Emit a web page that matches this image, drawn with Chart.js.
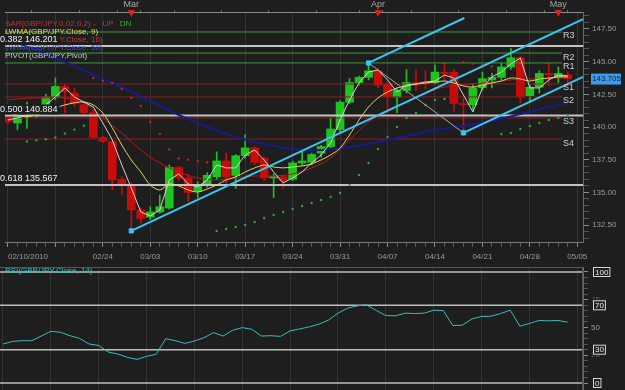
<!DOCTYPE html>
<html>
<head>
<meta charset="utf-8">
<title>GBP/JPY daily</title>
<script src="https://cdn.jsdelivr.net/npm/chart.js@4.4.0/dist/chart.umd.min.js"></script>
<style>
    html, body { margin: 0; padding: 0; background: #1e1e1e; }
    #wrap { position: relative; width: 625px; height: 390px; overflow: hidden; background: #1e1e1e; }
    #priceChart { position: absolute; left: 0; top: 0; }
    #rsiChart { position: absolute; left: 0; top: 265px; }
</style>
</head>
<body>
<div id="wrap">
    <canvas id="priceChart" width="625" height="265"></canvas>
    <canvas id="rsiChart" width="625" height="125"></canvas>
</div>
<script>
// GBP/JPY daily chart with indicators and RSI panel

// Daily candles, index 0 = 02/10/2010, one per trading day
const opens = [140.9, 140.3, 140.8, 140.9, 141.3, 142.3, 143.1, 142.6, 141.7, 141.1,
    139.2, 138.9, 136.0, 135.6, 133.65, 133.1, 133.5, 133.8, 136.9, 136.1,
    135.1, 135.6, 136.2, 137.4, 136.3, 137.8, 138.4, 137.6, 136.1, 136.2,
    136.0, 137.25, 137.3, 138.0, 138.5, 139.8, 141.9, 143.4, 143.8, 144.3,
    143.3, 142.3, 142.8, 143.4, 143.45, 143.4, 144.2, 144.2, 141.8, 141.7,
    143.0, 143.6, 143.8, 144.6, 145.3, 142.4, 143.05, 144.1, 143.8, 144.0];
const highs = [141.1, 141.1, 141.9, 141.1, 142.5, 143.75, 143.3, 143.0, 142.0, 141.3,
    139.3, 139.0, 136.2, 135.7, 133.8, 133.9, 134.8, 137.1, 137.0, 136.4,
    135.8, 136.5, 138.1, 138.0, 137.9, 139.4, 138.5, 137.7, 136.4, 136.3,
    137.4, 138.2, 138.0, 138.6, 140.7, 142.0, 143.7, 143.9, 144.9, 144.5,
    143.5, 143.0, 144.4, 144.4, 144.35, 144.75, 144.9, 144.4, 142.2, 143.3,
    144.2, 144.1, 144.9, 146.0, 145.4, 143.2, 144.3, 144.9, 144.6, 144.2];
const lows = [140.2, 139.8, 139.9, 140.7, 141.0, 142.1, 141.1, 141.6, 141.0, 139.1,
    138.8, 135.2, 134.8, 132.05, 132.65, 132.9, 133.4, 133.7, 135.9, 134.3,
    134.6, 135.4, 136.0, 135.7, 135.3, 137.6, 137.1, 135.9, 134.6, 135.3,
    135.9, 137.1, 137.1, 137.7, 138.4, 139.6, 141.8, 143.2, 143.6, 143.0,
    141.1, 141.1, 142.6, 142.8, 142.9, 143.3, 143.5, 141.2, 139.55, 141.3,
    142.8, 143.0, 143.6, 144.4, 141.8, 141.9, 142.6, 143.2, 143.4, 143.3];
const closes = [140.4, 140.9, 140.85, 140.95, 142.3, 143.1, 142.7, 141.8, 141.1, 139.2,
    138.9, 135.95, 135.6, 133.65, 133.0, 133.5, 133.9, 136.9, 136.1, 135.0,
    135.6, 136.3, 137.4, 136.2, 137.8, 138.4, 137.3, 136.1, 136.2, 135.9,
    137.25, 137.4, 137.9, 138.5, 139.85, 141.9, 143.4, 143.8, 144.3, 143.2,
    142.3, 142.8, 143.4, 143.2, 143.3, 144.2, 144.1, 141.8, 141.7, 143.0,
    143.7, 143.8, 144.6, 145.3, 142.3, 143.05, 144.1, 144.0, 144.1, 143.705];

// Fast white line (follows the closes)
const fastLine = [140.54, 140.69, 140.92, 141.07, 141.69, 142.3, 142.99, 142.3, 141.91, 141.53,
    140.31, 139.01, 137.09, 135.33, 133.5, 133.19, 133.65, 135.95, 136.41, 135.64,
    135.41, 135.95, 137.09, 136.87, 136.87, 137.86, 138.24, 137.48, 136.56, 135.72,
    136.1, 136.56, 137.25, 137.86, 138.78, 140.54, 142.07, 143.37, 144.21, 144.36,
    143.6, 142.68, 143.22, 143.29, 143.44, 143.52, 143.98, 143.75, 142.45, 141.15,
    142.99, 143.83, 144.21, 144.82, 145.28, 142.99, 142.99, 143.6, 143.98, 143.9];

// LWMA 9 (yellow)
const lwma9 = [141.07, 140.9, 140.77, 140.95, 141.15, 141.45, 141.69, 141.85, 141.91, 141.69,
    141.07, 139.93, 138.62, 137.48, 136.56, 135.56, 135.18, 135.64, 135.49, 135.18,
    135.03, 135.26, 135.56, 135.95, 136.18, 136.56, 136.87, 137.09, 136.94, 136.87,
    136.94, 137.02, 137.17, 137.48, 137.86, 138.39, 139.39, 140.54, 141.53, 142.22,
    142.68, 142.99, 143.14, 143.29, 143.37, 143.44, 143.52, 143.37, 143.14, 143.06,
    143.22, 143.37, 143.52, 143.75, 143.67, 143.52, 143.67, 143.75, 143.83, 143.83];

// LWMA 16 (red), read every second day: [day, value]
const lwma16 = [[0, 142.07], [2, 142.2], [4, 142.22], [6, 142.22], [8, 141.84], [10, 140.69],
    [12, 139.54], [14, 138.24], [16, 137.25], [18, 136.56], [20, 136.1], [22, 135.95],
    [24, 136.1], [26, 136.25], [28, 136.25], [30, 136.41], [32, 136.87], [34, 137.63],
    [36, 139.01], [38, 140.38], [40, 141.3], [42, 141.91], [44, 142.6], [46, 143.06],
    [48, 143.22], [50, 143.37], [52, 143.52], [54, 143.67], [56, 143.67], [58, 143.75], [59, 143.75]];

// LWMA 50 (blue), read every third day: [day, value]
const lwma50 = [[0, 146.66], [3, 145.89], [6, 144.98], [9, 143.98], [12, 143.06], [15, 141.99],
    [18, 140.92], [21, 140.0], [24, 139.24], [27, 138.7], [30, 138.32], [33, 138.24],
    [36, 138.47], [39, 138.85], [42, 139.31], [45, 139.77], [48, 140.08], [51, 140.46],
    [54, 140.99], [57, 141.53], [59, 141.84]];

// Parabolic SAR dots: [day, value]
const sarBelow = [[2, 138.9], [3, 138.98], [4, 139.06], [5, 139.2], [6, 139.5], [7, 139.8], [8, 140.1],
    [22, 132.05], [23, 132.2], [24, 132.35], [25, 132.5], [26, 132.73], [27, 133.04], [28, 133.27],
    [29, 133.5], [30, 133.73], [31, 133.96], [32, 134.19], [33, 134.42], [34, 134.65], [35, 134.95],
    [36, 135.56], [37, 136.33], [38, 137.25], [39, 138.32], [40, 139.24], [41, 140.0], [42, 140.69],
    [43, 141.07], [44, 141.69], [45, 142.07], [46, 142.14],
    [52, 139.46], [53, 139.54], [54, 139.85], [55, 140.08], [56, 140.31], [57, 140.54], [58, 140.69], [59, 140.84]];
const sarAbove = [[9, 143.75], [10, 143.52], [11, 143.37], [12, 142.91], [13, 142.22], [14, 141.61],
    [15, 140.38], [16, 139.47], [17, 138.3], [18, 137.6], [19, 137.5], [20, 137.4], [21, 137.3],
    [48, 144.95], [49, 144.85], [50, 144.75], [51, 144.65]];

// Pivot levels and Fibonacci retracements
const pivotNames = ['R3', 'R2', 'R1', 'S1', 'S2', 'S3', 'S4'];
const pivotLevels = [147.27, 145.66, 144.9, 143.29, 142.3, 140.69, 139.08];
const fibNames = ['0.382', '0.500', '0.618'];
const fibLevels = [146.201, 140.884, 135.567];

// Hand-drawn channel: [day, price] end points
const channelLow = [[13, 132.05], [60.6, 148.26]];
const channelHigh = [[38, 144.9], [48.1, 148.34]];
const channelMid = [[48, 139.55], [60.6, 143.84]];
const channelHandle = [[38, 144.9], [48, 139.55]];
const channelAnchors = [[13, 132.05], [38, 144.9], [48, 139.55]];

// RSI(14)
const rsi = [35.1, 37.5, 38.1, 38.1, 42.3, 46.6, 45.7, 42.6, 40.2, 35.1,
    33.9, 27.9, 26.1, 23.1, 21.3, 24.0, 25.8, 39.9, 38.1, 35.7,
    37.8, 40.8, 45.4, 42.3, 47.5, 49.9, 48.4, 42.3, 42.6, 42.0,
    46.9, 48.7, 50.6, 53.0, 56.6, 62.9, 67.4, 69.5, 70.4, 65.3,
    60.8, 60.5, 62.9, 62.6, 62.9, 65.6, 65.3, 51.8, 52.1, 57.8,
    59.9, 60.2, 62.6, 65.6, 51.2, 53.6, 56.3, 56.0, 56.3, 54.8];
const rsiLevels = [0, 30, 70, 100];

// Axis labels
const weekDays = [0, 5, 10, 15, 20, 25, 30, 35, 40, 45, 50, 55, 60];
const weekLabels = ['02/10/2010', '', '02/24', '03/03', '03/10', '03/17', '03/24', '03/31', '04/07', '04/14', '04/21', '04/28', '05/05'];
const monthDays = [13, 39, 58];
const monthLabels = ['Mar', 'Apr', 'May'];

const xMin = -0.31;
const xMax = 60.6;
const FONT = '"Liberation Sans", Arial, sans-serif';

Chart.defaults.font.family = FONT;
Chart.defaults.color = '#9a9a9a';

// helpers
function pairs(list) {
    return list.map(p => ({ x: p[0], y: p[1] }));
}

function series(values) {
    return values.map((v, i) => ({ x: i, y: v }));
}

function flatLine(level, toX) {
    return [{ x: xMin, y: level }, { x: toX, y: level }];
}

function lineSet(data, color, width, extra) {
    return Object.assign({
        type: 'line', data: data, borderColor: color, borderWidth: width,
        pointRadius: 0, fill: false, tension: 0
    }, extra || {});
}

function isWeek(v) {
    return weekDays.indexOf(v) >= 0;
}

function isMajorPrice(v) {
    return Math.abs(v / 2.5 - Math.round(v / 2.5)) < 1e-6;
}

function noPadding(scale) {
    scale.paddingLeft = 0;
    scale.paddingRight = 0;
    scale.paddingTop = 0;
    scale.paddingBottom = 0;
}

const candleColors = closes.map((c, i) => c >= opens[i] ? '#1ec41e' : '#c80c0c');

// ---------- price panel ----------
const priceSets = [];

priceSets.push({
    type: 'bar', data: lows.map((l, i) => ({ x: i, y: [l, highs[i]] })),
    backgroundColor: candleColors, grouped: false, barPercentage: 1, categoryPercentage: 1,
    maxBarThickness: 1, order: 30
});
priceSets.push({
    type: 'bar', data: opens.map((o, i) => ({ x: i, y: [o, closes[i]] })),
    backgroundColor: candleColors, grouped: false, barPercentage: 1, categoryPercentage: 1,
    maxBarThickness: 8, minBarLength: 1, order: 29
});

pivotLevels.forEach((lvl, i) => {
    const color = pivotNames[i].charAt(0) === 'R' ? '#3c9c3c' : '#8c1e1e';
    priceSets.push(lineSet(flatLine(lvl, 58.4), color, 1, { order: 25 }));
});
fibLevels.forEach(lvl => {
    priceSets.push(lineSet(flatLine(lvl, xMax), '#c4c4c4', 2, { order: 24 }));
});

priceSets.push(lineSet(pairs(lwma50), '#1a1a88', 2, { tension: 0.4, order: 12 }));
priceSets.push(lineSet(pairs(lwma16), '#b41c1c', 1, { tension: 0.4, order: 11 }));
priceSets.push(lineSet(series(lwma9), '#e2d46a', 1, { tension: 0.3, order: 10 }));
priceSets.push(lineSet(series(fastLine), '#d2d2d2', 1, { order: 9 }));

priceSets.push({
    type: 'line', data: pairs(sarBelow), showLine: false, pointRadius: 1.2,
    pointBackgroundColor: '#2aa82a', pointBorderWidth: 0, order: 8
});
priceSets.push({
    type: 'line', data: pairs(sarAbove), showLine: false, pointRadius: 1.2,
    pointBackgroundColor: '#b02a2a', pointBorderWidth: 0, order: 8
});

priceSets.push(lineSet(pairs(channelHandle), '#a8a8a8', 1, { order: 3 }));
priceSets.push(lineSet(pairs(channelLow), '#3cc4f2', 2, { order: 2 }));
priceSets.push(lineSet(pairs(channelHigh), '#3cc4f2', 2, { order: 2 }));
priceSets.push(lineSet(pairs(channelMid), '#3cc4f2', 2, { order: 2 }));
priceSets.push({
    type: 'line', data: pairs(channelAnchors), showLine: false, pointStyle: 'rect',
    pointRadius: 3, pointBackgroundColor: '#3cc4f2', pointBorderColor: '#3cc4f2', order: 1
});

// Texts drawn over the price panel: indicator names, level labels, markers
const priceOverlay = {
    id: 'priceOverlay',
    afterDraw(chart) {
        const ctx = chart.ctx;
        const y = chart.scales.y;
        const top = chart.scales.xTop;
        ctx.save();
        ctx.font = '8px ' + FONT;
        ctx.textBaseline = 'middle';
        ctx.textAlign = 'left';

        // indicator legend
        const sarText = 'SAR(GBP/JPY,0.02,0.2) -';
        ctx.fillStyle = '#d42a2a';
        ctx.fillText(sarText, 5, 24);
        const upX = 5 + ctx.measureText(sarText).width + 7;
        ctx.fillText('UP', upX, 24);
        ctx.fillStyle = '#22b822';
        ctx.fillText('DN', upX + ctx.measureText('UP').width + 6, 24);
        ctx.fillStyle = '#e6dc50';
        ctx.fillText('LWMA(GBP/JPY.Close, 9)', 5, 32);
        ctx.fillStyle = '#d43030';
        ctx.fillText('LWMA(GBP/JPY.Close, 16)', 5, 40);
        ctx.fillStyle = '#3c48d8';
        ctx.fillText('LWMA(GBP/JPY.Close, 50)', 5, 48);
        ctx.fillStyle = '#c8c8c8';
        ctx.fillText('PIVOT(GBP/JPY,Pivot)', 5, 56);

        // fibonacci labels
        ctx.font = '9px ' + FONT;
        fibLevels.forEach((lvl, i) => {
            const text = fibNames[i] + ' ' + lvl.toFixed(3);
            const py = y.getPixelForValue(lvl) - 6;
            const w = ctx.measureText(text).width;
            ctx.fillStyle = '#1e1e1e';
            ctx.fillRect(0, py - 5, w + 2, 10);
            ctx.fillStyle = '#f0f0f0';
            ctx.fillText(text, 0, py);
        });

        // pivot labels
        ctx.fillStyle = '#cfcfcf';
        pivotLevels.forEach((lvl, i) => {
            ctx.fillText(pivotNames[i], 563, y.getPixelForValue(lvl) + 4);
        });

        // last price tag
        const last = closes[closes.length - 1];
        const ly = y.getPixelForValue(last);
        ctx.fillStyle = '#3d9be9';
        ctx.fillRect(591, ly - 5, 30, 11);
        ctx.fillStyle = '#0b1e3a';
        ctx.font = '8px ' + FONT;
        ctx.fillText(last.toFixed(3), 592, ly + 0.5);

        // month markers on the ruler
        ctx.fillStyle = '#e0201c';
        monthDays.forEach(d => {
            const px = top.getPixelForValue(d);
            ctx.beginPath();
            ctx.moveTo(px - 3.5, 10);
            ctx.lineTo(px + 3.5, 10);
            ctx.lineTo(px, 17);
            ctx.closePath();
            ctx.fill();
        });
        ctx.restore();
    }
};

const priceChart = new Chart(document.getElementById('priceChart'), {
    type: 'bar',
    data: { datasets: priceSets },
    options: {
        responsive: false,
        animation: false,
        events: [],
        layout: { padding: 0 },
        plugins: { legend: { display: false }, tooltip: { enabled: false } },
        scales: {
            x: {
                type: 'linear', position: 'bottom', min: xMin, max: xMax, offset: false,
                afterBuildTicks: scale => {
                    const t = [];
                    for (let d = 0; d <= 61; d++) t.push({ value: d });
                    scale.ticks = t;
                },
                afterFit: scale => { scale.height = 23; noPadding(scale); },
                grid: {
                    offset: false, tickLength: 5,
                    color: c => (c.tick && isWeek(c.tick.value)) ? '#333333' : 'rgba(0,0,0,0)',
                    tickColor: c => {
                        if (!c.tick || c.tick.value > 60) return 'rgba(0,0,0,0)';
                        return isWeek(c.tick.value) ? '#8a8a8a' : '#5c5c5c';
                    }
                },
                border: { color: '#777' },
                ticks: {
                    autoSkip: false, maxRotation: 0, align: 'inner', padding: 5,
                    color: '#9a9a9a', font: { size: 8 },
                    callback: v => { const k = weekDays.indexOf(v); return k >= 0 ? weekLabels[k] : ''; }
                }
            },
            xTop: {
                type: 'linear', position: 'top', min: xMin, max: xMax, offset: false,
                afterBuildTicks: scale => {
                    const t = weekDays.concat(monthDays).sort((a, b) => a - b);
                    scale.ticks = t.map(v => ({ value: v }));
                },
                afterFit: scale => { scale.height = 12; noPadding(scale); },
                grid: { drawOnChartArea: false, tickLength: 2, tickColor: '#707070' },
                border: { color: '#8a8a8a' },
                ticks: {
                    autoSkip: false, maxRotation: 0, padding: 0, color: '#a8a8a8', font: { size: 9 },
                    callback: v => { const k = monthDays.indexOf(v); return k >= 0 ? monthLabels[k] : ''; }
                }
            },
            y: {
                type: 'linear', position: 'right', min: 131.2, max: 148.8,
                afterBuildTicks: scale => {
                    const t = [];
                    for (let v = 131.5; v <= 148.5; v += 0.5) t.push({ value: v });
                    scale.ticks = t;
                },
                afterFit: scale => { scale.width = 42; noPadding(scale); },
                grid: {
                    drawOnChartArea: false, tickLength: 6,
                    tickColor: c => (c.tick && isMajorPrice(c.tick.value)) ? '#8a8a8a' : '#555'
                },
                border: { color: '#666' },
                ticks: {
                    autoSkip: false, padding: 3, color: '#9a9a9a', font: { size: 8 },
                    callback: v => isMajorPrice(v) ? v.toFixed(2) : ''
                }
            }
        }
    },
    plugins: [priceOverlay]
});

// ---------- RSI panel ----------
const rsiSets = [];
rsiLevels.forEach(lvl => {
    rsiSets.push(lineSet(flatLine(lvl, xMax), '#bdbdbd', 1.5, { order: 5 }));
});
rsiSets.push(lineSet(series(rsi), '#3cbcbc', 1, { order: 1 }));

const rsiOverlay = {
    id: 'rsiOverlay',
    afterDraw(chart) {
        const ctx = chart.ctx;
        const a = chart.chartArea;
        const y = chart.scales.y;
        ctx.save();
        ctx.strokeStyle = '#555';
        ctx.lineWidth = 1;
        ctx.strokeRect(a.left - 0.5, a.top + 0.5, a.right - a.left, a.bottom - a.top + 2);

        ctx.font = '8px ' + FONT;
        ctx.textBaseline = 'middle';
        ctx.fillStyle = '#3cbcbc';
        ctx.fillText('RSI(GBP/JPY.Close, 14)', 5, 6);

        // boxed level labels on the axis
        rsiLevels.forEach(lvl => {
            const text = String(lvl);
            const py = y.getPixelForValue(lvl);
            const w = ctx.measureText(text).width + 3;
            ctx.fillStyle = '#1e1e1e';
            ctx.fillRect(593, py - 5, w, 10);
            ctx.strokeStyle = '#d8d8d8';
            ctx.strokeRect(593.5, py - 4.5, w, 9);
            ctx.fillStyle = '#eeeeee';
            ctx.fillText(text, 595, py + 0.5);
        });
        ctx.restore();
    }
};

const rsiChart = new Chart(document.getElementById('rsiChart'), {
    type: 'line',
    data: { datasets: rsiSets },
    options: {
        responsive: false,
        animation: false,
        events: [],
        layout: { padding: { top: 2 } },
        plugins: { legend: { display: false }, tooltip: { enabled: false } },
        scales: {
            x: {
                type: 'linear', min: xMin, max: xMax,
                afterBuildTicks: scale => { scale.ticks = weekDays.map(v => ({ value: v })); },
                afterFit: scale => { scale.height = 0; noPadding(scale); },
                grid: { color: '#333333', drawTicks: false },
                border: { display: false },
                ticks: { display: false }
            },
            y: {
                type: 'linear', position: 'right', min: -6.3, max: 104.5,
                afterBuildTicks: scale => {
                    const t = [];
                    for (let v = 0; v <= 100; v += 5) t.push({ value: v });
                    scale.ticks = t;
                },
                afterFit: scale => { scale.width = 42; noPadding(scale); },
                grid: {
                    drawOnChartArea: false, tickLength: 5,
                    tickColor: c => (c.tick && c.tick.value % 25 === 0) ? '#8a8a8a' : '#555'
                },
                border: { color: '#666' },
                ticks: {
                    autoSkip: false, padding: 3, font: { size: 8 },
                    color: c => (c.tick && c.tick.value === 50) ? '#9a9a9a' : '#5a5a5a',
                    callback: v => (v === 25 || v === 50 || v === 75) ? String(v) : ''
                }
            }
        }
    },
    plugins: [rsiOverlay]
});
</script>
</body>
</html>
